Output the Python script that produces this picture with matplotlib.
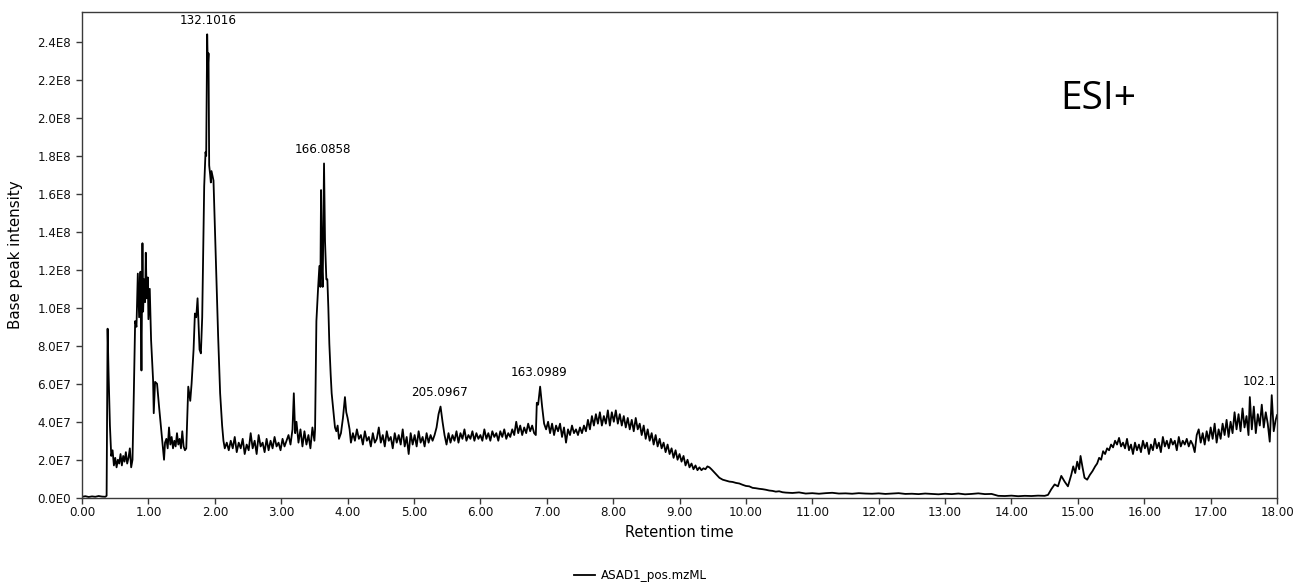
import numpy as np
import matplotlib
matplotlib.use("Agg")
import matplotlib.pyplot as plt
from matplotlib.ticker import FuncFormatter
from matplotlib.transforms import IdentityTransform

# ---- Data (retention time in min, base peak intensity in units of 1E7) ----
rt_a = [0.00, 0.05, 0.10, 0.15, 0.20, 0.25, 0.30, 0.35, 0.37, 0.385,
        0.40, 0.42, 0.44, 0.46, 0.48, 0.50, 0.52, 0.54, 0.56, 0.58,
        0.60, 0.62, 0.64, 0.66, 0.68, 0.70, 0.72, 0.74, 0.76, 0.78,
        0.80, 0.82, 0.84, 0.86, 0.88, 0.895, 0.91, 0.92, 0.935, 0.95,
        0.96, 0.975, 0.99, 1.00, 1.02, 1.04, 1.055, 1.07, 1.08, 1.10,
        1.13, 1.16, 1.19, 1.21, 1.235, 1.25, 1.27, 1.29, 1.31, 1.33,
        1.35, 1.37, 1.39, 1.41, 1.43, 1.45, 1.47, 1.49, 1.51, 1.53,
        1.55, 1.57, 1.60, 1.63, 1.65, 1.68, 1.70, 1.72, 1.74, 1.77,
        1.79, 1.81, 1.84, 1.86, 1.87, 1.885, 1.895, 1.905, 1.915, 1.93,
        1.94, 1.95, 1.98, 2.02, 2.05, 2.08, 2.11, 2.13, 2.15]
bpi_a = [0.05, 0.08, 0.04, 0.07, 0.05, 0.09, 0.06, 0.05, 0.10, 8.9,
         6.5, 3.8, 2.2, 2.5, 1.7, 2.1, 1.6, 2.0, 1.8, 2.3,
         1.7, 2.2, 1.9, 2.4, 1.8, 2.1, 2.6, 1.6, 2.0, 5.5,
         9.3, 9.0, 11.8, 9.5, 11.9, 6.7, 13.4, 9.8, 11.5, 10.3,
         12.9, 10.5, 11.6, 9.4, 11.0, 8.3, 7.2, 6.2, 4.45, 6.1,
         6.0, 4.8, 3.7, 3.0, 2.0, 2.9, 3.1, 2.6, 3.7, 2.8,
         3.2, 2.6, 3.0, 2.7, 3.4, 2.8, 3.1, 2.6, 3.5, 2.7,
         2.5, 2.6, 5.85, 5.1, 6.0, 7.8, 9.7, 9.5, 10.5, 7.8,
         7.6, 9.5, 16.4, 18.2, 18.0, 24.4, 22.6, 23.4, 17.5, 17.0,
         16.6, 17.2, 16.7, 12.0, 8.5, 5.5, 3.8, 3.0, 2.6]

rt_b = [2.18, 2.21, 2.24, 2.27, 2.30, 2.33, 2.36, 2.39, 2.42, 2.45,
        2.48, 2.51, 2.54, 2.57, 2.60, 2.63, 2.66, 2.69, 2.72, 2.75,
        2.78, 2.81, 2.84, 2.87, 2.90, 2.93, 2.96, 2.99, 3.02, 3.05,
        3.08, 3.11, 3.14, 3.17, 3.19, 3.21, 3.23, 3.26, 3.29, 3.32,
        3.35, 3.38, 3.41, 3.44, 3.47, 3.50, 3.51, 3.53, 3.555, 3.575,
        3.59, 3.60, 3.615, 3.625, 3.645, 3.66, 3.68, 3.695, 3.71, 3.725,
        3.745, 3.76, 3.78, 3.81, 3.83, 3.85, 3.87, 3.90, 3.93, 3.96,
        3.98, 4.00, 4.03, 4.05]
bpi_b = [2.9, 2.5, 3.0, 2.6, 3.2, 2.4, 2.9, 2.6, 3.1, 2.3,
         2.8, 2.5, 3.4, 2.6, 3.0, 2.3, 3.3, 2.7, 2.9, 2.4,
         3.1, 2.5, 3.0, 2.6, 3.2, 2.7, 2.9, 2.5, 3.1, 2.7,
         3.0, 3.3, 2.8, 3.6, 5.5, 3.4, 4.0, 2.9, 3.6, 2.7,
         3.5, 2.8, 3.3, 2.6, 3.7, 3.0, 3.6, 9.3, 11.0, 12.2,
         11.1, 16.2, 12.0, 11.1, 17.6, 13.5, 11.5, 11.5, 10.0, 8.1,
         6.5, 5.5, 4.8, 3.7, 3.5, 3.8, 3.1, 3.4, 4.2, 5.3,
         4.5, 4.2, 3.6, 2.9]

rt_c = [4.08, 4.11, 4.14, 4.17, 4.20, 4.23, 4.26, 4.29, 4.32, 4.35,
        4.38, 4.41, 4.44, 4.47, 4.50, 4.53, 4.56, 4.59, 4.62, 4.65,
        4.68, 4.71, 4.74, 4.77, 4.80, 4.83, 4.86, 4.89, 4.92, 4.95,
        4.98, 5.01, 5.04, 5.07, 5.10, 5.13, 5.16, 5.19, 5.22, 5.25,
        5.28, 5.31, 5.34, 5.37, 5.40, 5.43, 5.46, 5.49, 5.52, 5.55,
        5.58, 5.61, 5.64, 5.67, 5.70, 5.73, 5.76, 5.79, 5.82, 5.85,
        5.88, 5.91, 5.94, 5.97, 6.00, 6.03, 6.06, 6.09, 6.12, 6.15,
        6.18, 6.21, 6.24, 6.27, 6.30, 6.33, 6.36, 6.39, 6.42, 6.45,
        6.48, 6.51, 6.54, 6.57, 6.60, 6.63, 6.66, 6.69, 6.72, 6.75,
        6.78, 6.81, 6.835, 6.85, 6.87, 6.90, 6.93, 6.96, 6.99, 7.02,
        7.05, 7.08, 7.11, 7.14, 7.17, 7.20, 7.23, 7.26, 7.29, 7.32,
        7.35, 7.38, 7.41, 7.44, 7.47, 7.50, 7.53, 7.56, 7.59, 7.62,
        7.65, 7.68, 7.71, 7.74, 7.77, 7.80, 7.83, 7.86, 7.89, 7.92,
        7.95, 7.98, 8.01, 8.04, 8.07, 8.10, 8.13, 8.16, 8.19, 8.22,
        8.25, 8.28, 8.31, 8.34, 8.37, 8.40, 8.43, 8.46, 8.49, 8.52,
        8.55, 8.58, 8.61, 8.64, 8.67, 8.70, 8.73, 8.76, 8.79, 8.82,
        8.85, 8.88, 8.91, 8.94, 8.97, 9.00, 9.03, 9.06, 9.09, 9.12,
        9.15, 9.18, 9.21, 9.24, 9.27, 9.30, 9.33, 9.36, 9.39, 9.42,
        9.45, 9.48]
bpi_c = [3.4, 3.0, 3.6, 3.1, 3.3, 2.8, 3.5, 3.0, 3.2, 2.7,
         3.4, 2.9, 3.1, 3.7, 2.9, 3.3, 2.7, 3.5, 3.0, 3.2,
         2.6, 3.4, 2.9, 3.3, 2.8, 3.6, 2.7, 3.2, 2.3, 3.4,
         2.8, 3.3, 2.7, 3.5, 2.9, 3.2, 2.7, 3.4, 2.9, 3.3,
         3.0, 3.3, 3.7, 4.4, 4.8, 4.0, 3.3, 2.8, 3.4, 2.9,
         3.3, 3.0, 3.5, 2.9, 3.4, 3.1, 3.6, 3.0, 3.3, 3.1,
         3.5, 3.0, 3.4, 3.1, 3.3, 3.0, 3.6, 3.1, 3.4, 3.0,
         3.5, 3.2, 3.4, 3.0, 3.5, 3.2, 3.6, 3.1, 3.4, 3.2,
         3.6, 3.3, 4.0, 3.4, 3.8, 3.3, 3.7, 3.4, 3.9, 3.5,
         3.8, 3.4, 3.3, 5.0, 4.9, 5.85, 4.8, 3.9, 3.6, 4.0,
         3.4, 3.9, 3.3, 3.8, 3.5, 3.9, 3.2, 3.7, 2.9, 3.6,
         3.3, 3.8, 3.4, 3.6, 3.3, 3.7, 3.4, 3.8, 3.5, 4.1,
         3.6, 4.3, 3.8, 4.4, 3.9, 4.5, 3.8, 4.3, 3.9, 4.6,
         3.8, 4.5, 4.0, 4.6, 3.9, 4.4, 3.8, 4.3, 3.7, 4.2,
         3.6, 4.1, 3.5, 4.2, 3.6, 3.9, 3.3, 3.8, 3.1, 3.6,
         3.0, 3.4, 2.8, 3.3, 2.7, 3.1, 2.6, 2.9, 2.4, 2.8,
         2.3, 2.6, 2.1, 2.5, 2.0, 2.3, 1.9, 2.2, 1.7, 2.0,
         1.6, 1.8, 1.5, 1.7, 1.45, 1.6, 1.45, 1.55, 1.5, 1.65,
         1.6, 1.5]

rt_d = [9.52, 9.56, 9.60, 9.65, 9.70, 9.75, 9.80, 9.85, 9.90, 9.95,
        10.00, 10.05, 10.10, 10.15, 10.20, 10.25, 10.30, 10.35, 10.40, 10.45,
        10.50, 10.55, 10.60, 10.70, 10.80, 10.90, 11.00, 11.10, 11.20, 11.30,
        11.40, 11.50, 11.60, 11.70, 11.80, 11.90, 12.00, 12.10, 12.20, 12.30,
        12.40, 12.50, 12.60, 12.70, 12.80, 12.90, 13.00, 13.10, 13.20, 13.30,
        13.40, 13.50, 13.60, 13.70, 13.80, 13.90, 14.00, 14.10, 14.20, 14.30,
        14.40, 14.50]
bpi_d = [1.35, 1.2, 1.05, 0.95, 0.9, 0.85, 0.83, 0.78, 0.75, 0.68,
         0.62, 0.6, 0.52, 0.5, 0.47, 0.45, 0.42, 0.38, 0.36, 0.32,
         0.34, 0.29, 0.27, 0.25, 0.28, 0.22, 0.24, 0.21, 0.24, 0.26,
         0.22, 0.23, 0.21, 0.24, 0.22, 0.21, 0.23, 0.20, 0.22, 0.24,
         0.20, 0.21, 0.19, 0.22, 0.20, 0.18, 0.21, 0.19, 0.22, 0.18,
         0.20, 0.23, 0.19, 0.20, 0.10, 0.09, 0.11, 0.08, 0.10, 0.09,
         0.11, 0.10]

rt_e = [14.55, 14.60, 14.65, 14.70, 14.75, 14.80, 14.85, 14.90, 14.93, 14.96,
        14.99, 15.02, 15.04, 15.07, 15.10, 15.14, 15.18, 15.22, 15.26, 15.29,
        15.32, 15.35, 15.38, 15.41, 15.44, 15.47, 15.50, 15.53, 15.56, 15.59,
        15.62, 15.65, 15.68, 15.71, 15.74, 15.77, 15.80, 15.83, 15.86, 15.89,
        15.92, 15.95, 15.98, 16.01, 16.04, 16.07, 16.10, 16.13, 16.16, 16.19,
        16.22, 16.25, 16.28, 16.31, 16.34, 16.37, 16.40, 16.43, 16.46, 16.49,
        16.52, 16.55, 16.58, 16.61, 16.64, 16.67, 16.70, 16.73, 16.76, 16.79,
        16.82, 16.85, 16.88, 16.91, 16.94, 16.97, 17.00, 17.03, 17.06, 17.09,
        17.12, 17.15, 17.18, 17.21, 17.24, 17.27, 17.30, 17.33, 17.36, 17.39,
        17.42, 17.45, 17.48, 17.51, 17.54, 17.57, 17.59, 17.62, 17.65, 17.68,
        17.71, 17.74, 17.77, 17.80, 17.83, 17.86, 17.89, 17.92, 17.95, 17.98,
        18.00]
bpi_e = [0.15, 0.45, 0.7, 0.6, 1.15, 0.85, 0.6, 1.2, 1.65, 1.3,
         1.9, 1.5, 2.2, 1.6, 1.05, 0.95, 1.2, 1.4, 1.65, 1.8,
         2.1, 2.0, 2.45, 2.3, 2.6, 2.5, 2.8, 2.65, 3.0, 2.8,
         3.15, 2.7, 2.9, 2.6, 3.1, 2.5, 2.8, 2.3, 2.9, 2.5,
         2.8, 2.4, 3.0, 2.6, 2.9, 2.3, 2.8, 2.5, 3.1, 2.6,
         2.9, 2.4, 3.2, 2.7, 3.0, 2.6, 3.1, 2.8, 3.0, 2.5,
         3.2, 2.7, 3.0, 2.8, 3.1, 2.7, 3.0, 2.8, 2.4, 3.3,
         3.6, 2.9, 3.4, 2.8, 3.5, 3.0, 3.7, 3.1, 3.9, 2.9,
         3.6, 3.1, 3.9, 3.3, 4.1, 3.2, 4.0, 3.4, 4.5, 3.6,
         4.4, 3.5, 4.7, 3.7, 4.3, 3.3, 5.3, 3.6, 4.8, 3.4,
         4.4, 3.8, 4.9, 3.7, 4.5, 3.9, 2.95, 5.4, 3.5, 4.1,
         4.35]

# peak annotations (m/z labels)
peak_labels = ["132.1016", "166.0858", "205.0967", "163.0989", "102.1282"]
peak_rt = [1.90, 3.63, 5.39, 6.88, 17.91]
peak_bpi = [24.4, 17.6, 4.8, 5.85, 5.4]

y_ticks = [0, 2, 4, 6, 8, 10, 12, 14, 16, 18, 20, 22, 24]  # in 1E7
x_ticks = list(range(0, 19))

series_name = "ASAD1_pos.mzML"
ion_mode = "ESI+"
x_title = "Retention time"
y_title = "Base peak intensity"

# ---- Build series ----
rt = np.concatenate([rt_a, rt_b, rt_c, rt_d, rt_e])
bpi = np.concatenate([bpi_a, bpi_b, bpi_c, bpi_d, bpi_e]) * 1e7

plt.rcParams['font.family'] = ['DejaVu Sans']
fig = plt.figure(figsize=(12.94, 5.82), dpi=100)
ax = fig.add_axes([0.0634, 0.1448, 0.9235, 0.8354])

ax.plot(rt, bpi, color='black', lw=1.3, label=series_name)

ax.set_xlim(0, 18)
ax.set_ylim(0, 2.56e8)
ax.set_xticks(x_ticks)
ax.set_yticks([v * 1e7 for v in y_ticks])


def sci_fmt(v, pos):
    if v == 0:
        return "0.0E0"
    e = int(np.floor(np.log10(abs(v)) + 1e-9))
    m = v / 10 ** e
    return f"{m:.1f}E{e}"


ax.yaxis.set_major_formatter(FuncFormatter(sci_fmt))
ax.xaxis.set_major_formatter(FuncFormatter(lambda v, p: f"{v:.2f}"))

spine_c = '#3a3a3a'
for s in ax.spines.values():
    s.set_color(spine_c)
    s.set_linewidth(1.0)
ax.tick_params(axis='both', direction='out', length=4, width=1.0,
               color=spine_c, labelsize=8.6, labelcolor='#111111')
ax.tick_params(axis='y', pad=4)
ax.tick_params(axis='x', pad=2)

ax.set_xlabel(x_title, fontsize=10.5, labelpad=4)
ax.set_ylabel(y_title, fontsize=10.8, labelpad=10)

for lab, x, y in zip(peak_labels, peak_rt, peak_bpi):
    ax.annotate(lab, xy=(x, y * 1e7), xytext=(0, 10), textcoords='offset points',
                ha='center', va='center', fontsize=8.6, clip_on=True)

t = ax.text(0, 0, ion_mode, fontsize=28, family='Open Sans',
            ha='left', va='center')
t.set_transform(IdentityTransform())
t.set_position((1060, 582 - 99))

fig.legend(loc='lower center', bbox_to_anchor=(0.495, -0.018), frameon=False,
           fontsize=8.6, handlelength=1.8, handletextpad=0.5)

fig.savefig("out.png", dpi=100)
